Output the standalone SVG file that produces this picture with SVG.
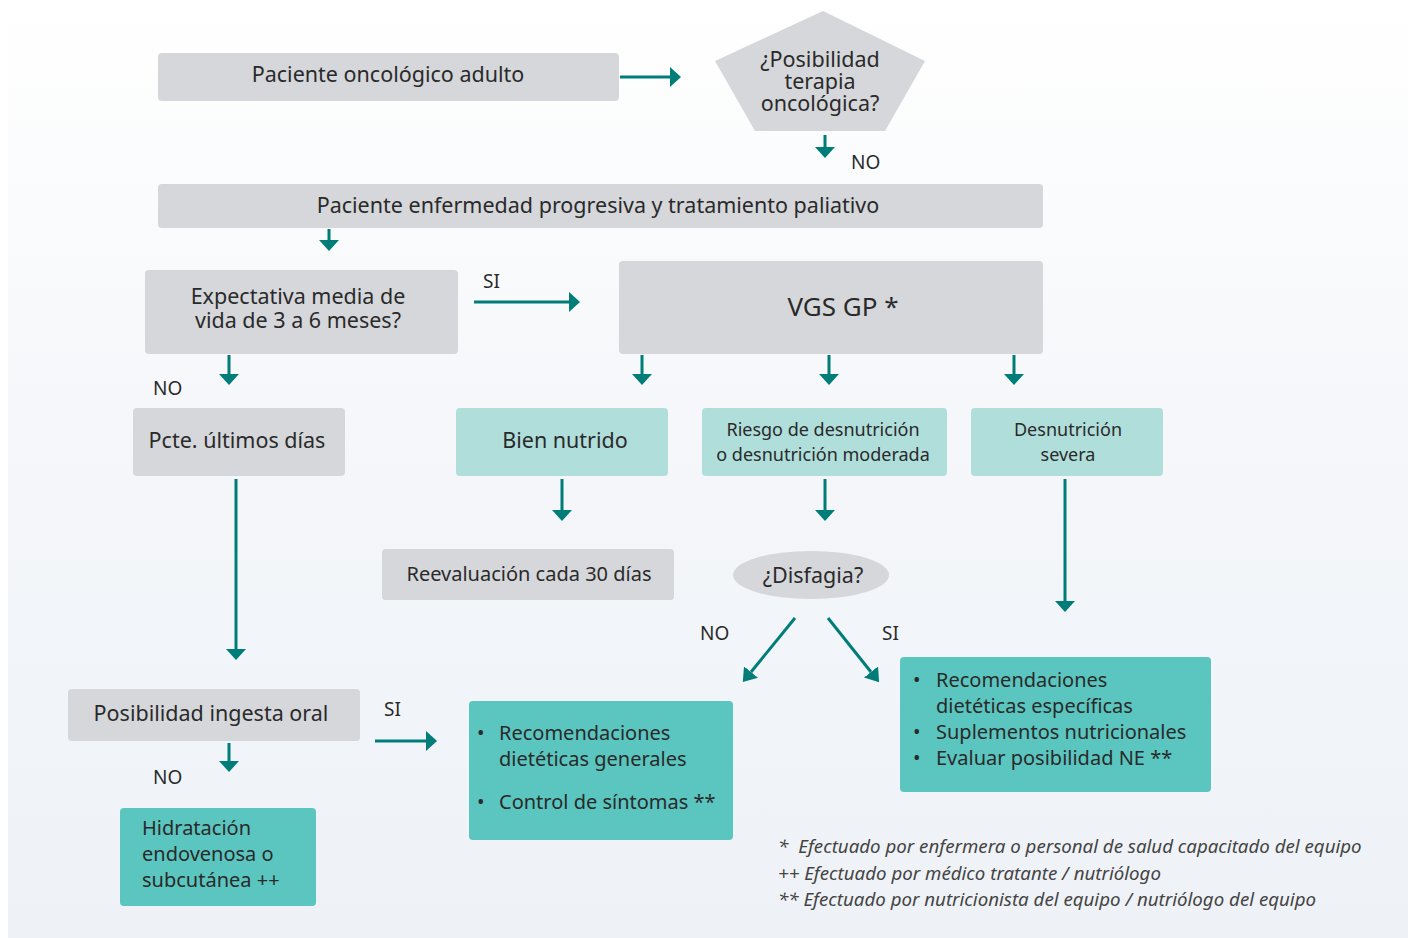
<svg xmlns="http://www.w3.org/2000/svg" width="1408" height="938" viewBox="0 0 1408 938">
  <defs>
    <linearGradient id="bg" x1="0" y1="0" x2="0" y2="1">
      <stop offset="0" stop-color="#ffffff"/>
      <stop offset="0.45" stop-color="#f5f7fa"/>
      <stop offset="1" stop-color="#eef2f7"/>
    </linearGradient>
    <marker id="head" viewBox="0 -10 11 20" refX="0" refY="0" markerWidth="11" markerHeight="20" markerUnits="userSpaceOnUse" orient="auto">
      <path d="M0,-10 L11,0 L0,10 Z" fill="#007d78"/>
    </marker>
    <marker id="headD" viewBox="0 -9 13 18" refX="0" refY="0" markerWidth="13" markerHeight="18" markerUnits="userSpaceOnUse" orient="auto">
      <path d="M0,-9 L13,0 L0,9 Z" fill="#007d78"/>
    </marker>
  </defs>
  <style>
    text { font-family: "Noto Sans", "Open Sans", sans-serif; fill: #2a2a2a; }
    .t { font-size: 21.5px; text-anchor: middle; }
    .t20 { font-size: 20px; text-anchor: middle; }
    .big { font-size: 26px; text-anchor: middle; }
    .ts { font-size: 18px; text-anchor: middle; }
    .tl { font-size: 20px; }
    .lbl { font-size: 19px; }
    .note { font-size: 18.7px; font-style: italic; fill: #444; }
    .gray { fill: #d5d7da; }
    .pale { fill: #b0dedb; }
    .teal { fill: #5bc5bf; }
    .ln { stroke: #007d78; stroke-width: 3; fill: none; marker-end: url(#head); }
    .lnd { stroke: #007d78; stroke-width: 3; fill: none; marker-end: url(#headD); }
  </style>

  <rect x="0" y="0" width="1408" height="938" fill="#ffffff"/>
  <rect x="8" y="0" width="1400" height="938" fill="url(#bg)"/>

  <!-- connectors -->
  <g id="connectors">
    <line class="ln" x1="620" y1="77" x2="670" y2="77"/>
    <line class="ln" x1="825" y1="135" x2="825" y2="147"/>
    <line class="ln" x1="329" y1="229" x2="329" y2="240"/>
    <line class="ln" x1="474" y1="302" x2="569" y2="302"/>
    <line class="ln" x1="229" y1="355" x2="229" y2="374"/>
    <line class="ln" x1="642" y1="355" x2="642" y2="374"/>
    <line class="ln" x1="829" y1="355" x2="829" y2="374"/>
    <line class="ln" x1="1014" y1="355" x2="1014" y2="374"/>
    <line class="ln" x1="236" y1="479" x2="236" y2="649"/>
    <line class="ln" x1="562" y1="479" x2="562" y2="510"/>
    <line class="ln" x1="825" y1="479" x2="825" y2="510"/>
    <line class="ln" x1="1065" y1="479" x2="1065" y2="601"/>
    <line class="lnd" x1="795" y1="618" x2="751" y2="672"/>
    <line class="lnd" x1="828" y1="618" x2="871" y2="672"/>
    <line class="ln" x1="375" y1="741" x2="426" y2="741"/>
    <line class="ln" x1="229" y1="743" x2="229" y2="761"/>
  </g>

  <!-- branch labels -->
  <g id="labels">
    <text class="lbl" x="851" y="169">NO</text>
    <text class="lbl" x="483" y="288">SI</text>
    <text class="lbl" x="153" y="395">NO</text>
    <text class="lbl" x="700" y="640">NO</text>
    <text class="lbl" x="882" y="640">SI</text>
    <text class="lbl" x="384" y="716">SI</text>
    <text class="lbl" x="153" y="784">NO</text>
  </g>

  <g id="n-paciente">
    <rect class="gray" x="158" y="53" width="461" height="48" rx="4"/>
    <text class="t" x="388" y="82">Paciente oncológico adulto</text>
  </g>

  <g id="n-posibilidad-terapia">
    <polygon class="gray" points="823,11 925,61 885,131 755,131 715,61"/>
    <text class="t" x="820" y="67">¿Posibilidad</text>
    <text class="t" x="820" y="89">terapia</text>
    <text class="t" x="820" y="111">oncológica?</text>
  </g>

  <g id="n-paliativo">
    <rect class="gray" x="158" y="184" width="885" height="44" rx="4"/>
    <text class="t" x="598" y="213">Paciente enfermedad progresiva y tratamiento paliativo</text>
  </g>

  <g id="n-expectativa">
    <rect class="gray" x="145" y="270" width="313" height="84" rx="4"/>
    <text class="t" x="298" y="304">Expectativa media de</text>
    <text class="t" x="298" y="328">vida de 3 a 6 meses?</text>
  </g>

  <g id="n-vgs">
    <rect class="gray" x="619" y="261" width="424" height="93" rx="4"/>
    <text class="big" x="843" y="316">VGS GP *</text>
  </g>

  <g id="n-ultimos-dias">
    <rect class="gray" x="133" y="408" width="212" height="68" rx="4"/>
    <text class="t" x="237" y="448">Pcte. últimos días</text>
  </g>

  <g id="n-bien-nutrido">
    <rect class="pale" x="456" y="408" width="212" height="68" rx="4"/>
    <text class="t" x="565" y="448">Bien nutrido</text>
  </g>

  <g id="n-riesgo">
    <rect class="pale" x="702" y="408" width="245" height="68" rx="4"/>
    <text class="ts" x="823" y="436">Riesgo de desnutrición</text>
    <text class="ts" x="823" y="461">o desnutrición moderada</text>
  </g>

  <g id="n-severa">
    <rect class="pale" x="971" y="408" width="192" height="68" rx="4"/>
    <text class="ts" x="1068" y="436">Desnutrición</text>
    <text class="ts" x="1068" y="461">severa</text>
  </g>

  <g id="n-reevaluacion">
    <rect class="gray" x="382" y="549" width="292" height="51" rx="4"/>
    <text class="t20" x="529" y="581">Reevaluación cada 30 días</text>
  </g>

  <g id="n-disfagia">
    <ellipse class="gray" cx="811" cy="575" rx="78" ry="24"/>
    <text class="t" x="813" y="583">¿Disfagia?</text>
  </g>

  <g id="n-especificas">
    <rect class="teal" x="900" y="657" width="311" height="135" rx="4"/>
    <text class="tl" x="913" y="687">•</text>
    <text class="tl" x="936" y="687">Recomendaciones</text>
    <text class="tl" x="936" y="713">dietéticas específicas</text>
    <text class="tl" x="913" y="739">•</text>
    <text class="tl" x="936" y="739">Suplementos nutricionales</text>
    <text class="tl" x="913" y="765">•</text>
    <text class="tl" x="936" y="765">Evaluar posibilidad NE **</text>
  </g>

  <g id="n-ingesta-oral">
    <rect class="gray" x="68" y="689" width="292" height="52" rx="4"/>
    <text class="t" x="211" y="721">Posibilidad ingesta oral</text>
  </g>

  <g id="n-generales">
    <rect class="teal" x="469" y="701" width="264" height="139" rx="4"/>
    <text class="tl" x="477" y="740">•</text>
    <text class="tl" x="499" y="740">Recomendaciones</text>
    <text class="tl" x="499" y="766">dietéticas generales</text>
    <text class="tl" x="477" y="809">•</text>
    <text class="tl" x="499" y="809">Control de síntomas **</text>
  </g>

  <g id="n-hidratacion">
    <rect class="teal" x="120" y="808" width="196" height="98" rx="4"/>
    <text class="tl" x="142" y="835">Hidratación</text>
    <text class="tl" x="142" y="861">endovenosa o</text>
    <text class="tl" x="142" y="887">subcutánea ++</text>
  </g>

  <g id="notes">
    <text class="note" x="778" y="853">*<tspan dx="10">Efectuado por enfermera o personal de salud capacitado del equipo</tspan></text>
    <text class="note" x="778" y="880">++ Efectuado por médico tratante / nutriólogo</text>
    <text class="note" x="778" y="906">** Efectuado por nutricionista del equipo / nutriólogo del equipo</text>
  </g>
</svg>
